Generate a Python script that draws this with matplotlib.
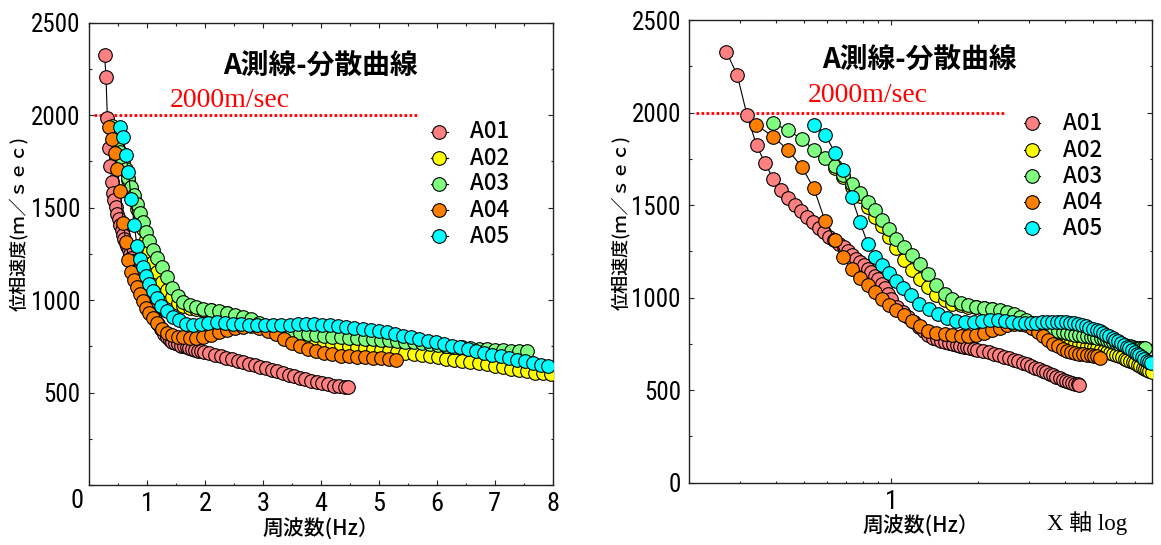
import matplotlib
matplotlib.use("Agg")
import matplotlib.pyplot as plt
from matplotlib import font_manager, ticker
from matplotlib.font_manager import FontProperties
from matplotlib.lines import Line2D

# ---------------------------------------------------------------- data
SERIES = ["A01", "A02", "A03", "A04", "A05"]
COLORS = ["#ff8080", "#ffff00", "#80ff80", "#ff8000", "#00ffff"]

A01_F = [0.269, 0.293, 0.317, 0.342, 0.366, 0.391, 0.415, 0.439, 0.464, 0.488,
         0.513, 0.537, 0.562, 0.586, 0.610, 0.635, 0.659, 0.684, 0.708, 0.732,
         0.757, 0.781, 0.806, 0.830, 0.854, 0.879, 0.903, 0.928, 0.952, 0.977,
         1.001, 1.050, 1.099, 1.147, 1.196, 1.245, 1.294, 1.343, 1.392, 1.440,
         1.489, 1.538, 1.587, 1.636, 1.685, 1.733, 1.782, 1.831, 1.880, 1.929,
         1.978, 2.075, 2.173, 2.271, 2.368, 2.466, 2.563, 2.661, 2.759, 2.856,
         2.954, 3.052, 3.149, 3.247, 3.345, 3.442, 3.540, 3.638, 3.735, 3.833,
         3.931, 4.028, 4.126, 4.224, 4.321, 4.419, 4.470]
A01_V = [2326, 2204, 1985, 1823, 1725, 1641, 1580, 1540, 1503, 1468,
         1437, 1407, 1378, 1352, 1330, 1310, 1292, 1272, 1250, 1230,
         1210, 1192, 1175, 1156, 1137, 1118, 1098, 1075, 1050, 1022,
         995, 950, 920, 895, 870, 843, 818, 798, 784, 775,
         767, 760, 754, 749, 744, 739, 735, 731, 727, 723,
         719, 712, 704, 696, 688, 681, 673, 664, 656, 648,
         640, 631, 622, 614, 605, 596, 588, 580, 572, 564,
         557, 550, 544, 538, 534, 531, 530]

A02_F = [0.64, 0.68, 0.73, 0.78, 0.83, 0.88, 0.93, 0.98, 1.04, 1.11,
         1.18, 1.26, 1.34, 1.43, 1.53, 1.63, 1.74, 1.85, 1.96, 2.10,
         2.24, 2.38, 2.52, 2.66, 2.80, 2.94, 3.08, 3.22, 3.36, 3.50,
         3.64, 3.78, 3.92, 4.06, 4.20, 4.34, 4.48, 4.62, 4.76, 4.90,
         5.04, 5.18, 5.32, 5.46, 5.60, 5.74, 5.88, 6.02, 6.16, 6.30,
         6.44, 6.58, 6.72, 6.86, 7.00, 7.14, 7.28, 7.42, 7.56, 7.70,
         7.84, 7.97]
A02_V = [1700, 1650, 1600, 1548, 1490, 1438, 1385, 1330, 1266, 1205,
         1150, 1100, 1055, 1015, 985, 968, 958, 952, 948, 944,
         938, 928, 915, 898, 878, 858, 838, 820, 805, 793,
         784, 777, 771, 766, 761, 756, 751, 746, 741, 736,
         731, 726, 720, 714, 708, 702, 696, 690, 684, 677,
         670, 664, 658, 652, 645, 637, 629, 621, 614, 608,
         603, 599]

A03_F = [0.39, 0.44, 0.49, 0.54, 0.59, 0.64, 0.68, 0.73, 0.78, 0.83,
         0.88, 0.93, 0.98, 1.04, 1.11, 1.18, 1.26, 1.34, 1.43, 1.53,
         1.63, 1.74, 1.85, 1.96, 2.10, 2.24, 2.38, 2.52, 2.66, 2.80,
         2.94, 3.08, 3.22, 3.36, 3.50, 3.64, 3.78, 3.92, 4.06, 4.20,
         4.34, 4.48, 4.62, 4.76, 4.90, 5.04, 5.18, 5.32, 5.46, 5.60,
         5.74, 5.88, 6.02, 6.16, 6.30, 6.44, 6.58, 6.72, 6.86, 7.00,
         7.14, 7.28, 7.42, 7.56]
A03_V = [1941, 1904, 1857, 1800, 1754, 1710, 1660, 1613, 1566, 1519,
         1472, 1422, 1369, 1317, 1272, 1228, 1180, 1125, 1068, 1022,
         990, 972, 960, 952, 946, 940, 932, 922, 910, 895,
         878, 862, 848, 838, 830, 823, 817, 812, 807, 803,
         800, 797, 795, 792, 789, 786, 783, 780, 776, 771,
         766, 761, 757, 752, 748, 744, 740, 736, 733, 730,
         728, 727, 726, 726]

A04_F = [0.34, 0.39, 0.44, 0.49, 0.54, 0.59, 0.64, 0.68, 0.73, 0.78,
         0.83, 0.88, 0.93, 0.98, 1.04, 1.11, 1.18, 1.26, 1.34, 1.43,
         1.53, 1.63, 1.74, 1.85, 1.96, 2.10, 2.24, 2.38, 2.52, 2.66,
         2.80, 2.94, 3.08, 3.22, 3.36, 3.50, 3.64, 3.78, 3.92, 4.06,
         4.20, 4.34, 4.48, 4.62, 4.76, 4.90, 5.04, 5.18, 5.30]
A04_V = [1935, 1870, 1797, 1707, 1590, 1416, 1313, 1219, 1153, 1107,
         1070, 1032, 994, 958, 932, 904, 875, 845, 822, 810,
         803, 798, 794, 793, 798, 810, 825, 838, 850, 857,
         858, 850, 835, 814, 792, 770, 752, 738, 725, 714,
         706, 700, 696, 693, 690, 688, 686, 682, 676]

A05_F = [0.54, 0.59, 0.64, 0.68, 0.73, 0.78, 0.83, 0.88, 0.93, 0.98,
         1.04, 1.10, 1.17, 1.25, 1.35, 1.45, 1.56, 1.68, 1.80, 1.93,
         2.06, 2.20, 2.34, 2.48, 2.62, 2.76, 2.90, 3.04, 3.18, 3.32,
         3.46, 3.60, 3.74, 3.88, 4.02, 4.16, 4.30, 4.44, 4.58, 4.72,
         4.86, 5.00, 5.14, 5.28, 5.42, 5.56, 5.70, 5.84, 5.98, 6.12,
         6.26, 6.40, 6.54, 6.68, 6.82, 6.96, 7.10, 7.24, 7.38, 7.52,
         7.66, 7.80, 7.92]
A05_V = [1935, 1881, 1782, 1692, 1544, 1407, 1290, 1222, 1178, 1132,
         1088, 1050, 1012, 968, 940, 910, 890, 873, 866, 870,
         876, 880, 878, 873, 868, 865, 864, 864, 865, 866,
         867, 868, 868, 868, 867, 865, 862, 857, 851, 845,
         838, 832, 825, 817, 808, 799, 790, 781, 772, 763,
         754, 745, 735, 726, 716, 705, 697, 688, 678, 668,
         659, 651, 645]

FREQS = [A01_F, A02_F, A03_F, A04_F, A05_F]
VELS = [A01_V, A02_V, A03_V, A04_V, A05_V]

TITLE = "A測線-分散曲線"
REF_LABEL = "2000m/sec"
REF_VELOCITY = 2000
XLABEL = "周波数(Hz）"
YLABEL = "位相速度(ｍ／ｓｅｃ)"
LOG_NOTE = "X 軸 log"
LIN_XTICKS = [0, 1, 2, 3, 4, 5, 6, 7, 8]
VTICKS = [0, 500, 1000, 1500, 2000, 2500]

# ---------------------------------------------------------------- fonts
JP = ["Noto Sans CJK JP", "DejaVu Sans"]
SERIF = ["Liberation Serif", "Noto Sans CJK JP"]
plt.rcParams["font.family"] = JP


def narrow_font_file():
    """Find a narrow/condensed sans face for the numeric tick labels."""
    entries = font_manager.fontManager.ttflist

    def regular(f):
        return f.style == "normal" and f.weight in (400, "normal", "regular", "book")

    for name in ("Liberation Sans Narrow", "Roboto Condensed", "Open Sans Condensed",
                 "Noto Sans Condensed", "DejaVu Sans Condensed"):
        for f in entries:
            if f.name == name and regular(f):
                return f.fname
    for name in ("DejaVu Sans", "Noto Sans", "Open Sans", "Roboto"):
        for f in entries:
            if f.name == name and regular(f) and f.stretch in ("condensed", "semi-condensed"):
                return f.fname
    for f in entries:
        if ("Condensed" in f.fname or "Narrow" in f.fname) and regular(f) \
                and "Bold" not in f.fname and "Italic" not in f.fname:
            return f.fname
    return None


_nf = narrow_font_file()
if _nf:
    YTICK_FP = FontProperties(fname=_nf, size=18)
    XTICK_FP = FontProperties(fname=_nf, size=19)
else:
    YTICK_FP = FontProperties(family="Liberation Sans", size=16)
    XTICK_FP = FontProperties(family="Liberation Sans", size=17)

W, H = 1161, 545
fig = plt.figure(figsize=(W / 100, H / 100), dpi=100)


def px_axes(x0, y0, x1, y1):
    """Axes from pixel box (left, top, right, bottom)."""
    return fig.add_axes([x0 / W, 1 - y1 / H, (x1 - x0) / W, (y1 - y0) / H])


ax_lin = px_axes(89, 22.7, 552.7, 485)
ax_log = px_axes(689.3, 20, 1152, 482.7)


def draw_curves(ax):
    for f, v, c in zip(FREQS, VELS, COLORS):
        ax.plot(f, v, color="black", lw=0.8, marker="o", ms=9.8,
                mfc=c, mec="black", mew=0.8, zorder=3)


def style_axes(ax):
    for s in ax.spines.values():
        s.set_linewidth(1.0)
        s.set_color("#222222")
    ax.tick_params(which="both", direction="in", top=True, right=True,
                   color="#222222", width=0.8)
    ax.tick_params(which="major", length=3.5)
    ax.tick_params(which="minor", length=1.8)
    ax.tick_params(axis="y", pad=6)
    ax.tick_params(axis="x", pad=5)
    ax.set_ylim(0, 2500)
    ax.yaxis.set_minor_locator(ticker.MultipleLocator(250))


def legend_block(ax, xm, xl0, xl1, xt, rows):
    for name, c, y in zip(SERIES, COLORS, rows):
        ax.add_line(Line2D([xl0, xl1], [y, y], transform=ax.transAxes,
                           color="black", lw=0.8, zorder=5))
        ax.add_line(Line2D([xm], [y], transform=ax.transAxes, marker="o",
                           ms=9.8, mfc=c, mec="black", mew=0.8, zorder=6))
        ax.text(xt, y, name, transform=ax.transAxes, fontsize=16,
                ha="left", va="center", family=JP, fontweight="medium")


# ---------------------------------------------------------------- linear panel
draw_curves(ax_lin)
ax_lin.set_xlim(0, 8)
ax_lin.set_xticks(LIN_XTICKS)
ax_lin.xaxis.set_minor_locator(ticker.MultipleLocator(0.5))
ax_lin.set_yticks(VTICKS)
style_axes(ax_lin)
ax_lin.set_xticklabels([""] + [str(t) for t in LIN_XTICKS[1:]], fontproperties=XTICK_FP)
ax_lin.set_yticklabels([""] + [str(t) for t in VTICKS[1:]], fontproperties=YTICK_FP)
fig.text(77 / W, 1 - 501 / H, "0", ha="center", va="center", fontproperties=XTICK_FP)

ax_lin.axhline(REF_VELOCITY, xmin=0.01, xmax=0.707, color="#ff0000", lw=2.0,
               ls=(0, (1, 0.8)), zorder=2)
ax_lin.text(0.175, 0.818, REF_LABEL, transform=ax_lin.transAxes, color="#ff0000",
            fontsize=20, family=SERIF, ha="left", va="baseline")
ax_lin.text(0.498, 0.908, TITLE, transform=ax_lin.transAxes, fontsize=20,
            fontweight="bold", ha="center", va="center")
legend_block(ax_lin, 0.7548, 0.7375, 0.7742, 0.8217,
             [0.7636, 0.7073, 0.6511, 0.5948, 0.5386])
fig.text(321 / W, 1 - 530 / H, XLABEL, ha="center", va="center", fontsize=15,
         fontweight="medium")
fig.text(19 / W, 1 - 223 / H, YLABEL, ha="center", va="center", fontsize=13,
         rotation=90, fontweight="medium")

# ---------------------------------------------------------------- log panel
draw_curves(ax_log)
ax_log.set_xscale("log")
ax_log.set_xlim(0.2, 8)
ax_log.xaxis.set_major_locator(ticker.FixedLocator([1]))
ax_log.xaxis.set_minor_locator(ticker.LogLocator(base=10, subs=range(2, 10)))
ax_log.xaxis.set_minor_formatter(ticker.NullFormatter())
ax_log.set_yticks(VTICKS)
style_axes(ax_log)
ax_log.set_xticklabels(["1"], fontproperties=XTICK_FP)
ax_log.set_yticklabels([str(t) for t in VTICKS], fontproperties=YTICK_FP)

ax_log.axhline(REF_VELOCITY, xmin=0.015, xmax=0.681, color="#ff0000", lw=2.0,
               ls=(0, (1, 0.8)), zorder=2)
ax_log.text(0.255, 0.822, REF_LABEL, transform=ax_log.transAxes, color="#ff0000",
            fontsize=20, family=SERIF, ha="left", va="baseline")
ax_log.text(0.498, 0.915, TITLE, transform=ax_log.transAxes, fontsize=20,
            fontweight="bold", ha="center", va="center")
legend_block(ax_log, 0.7407, 0.7223, 0.7590, 0.8077,
             [0.7765, 0.7188, 0.6618, 0.6062, 0.5500])
fig.text(921 / W, 1 - 527 / H, XLABEL, ha="center", va="center", fontsize=15,
         fontweight="medium")
fig.text(621 / W, 1 - 222 / H, YLABEL, ha="center", va="center", fontsize=13,
         rotation=90, fontweight="medium")
fig.text(1087 / W, 1 - 523 / H, LOG_NOTE, ha="center", va="center",
         fontsize=16.5, family=SERIF)

fig.savefig("out.png", dpi=100)
